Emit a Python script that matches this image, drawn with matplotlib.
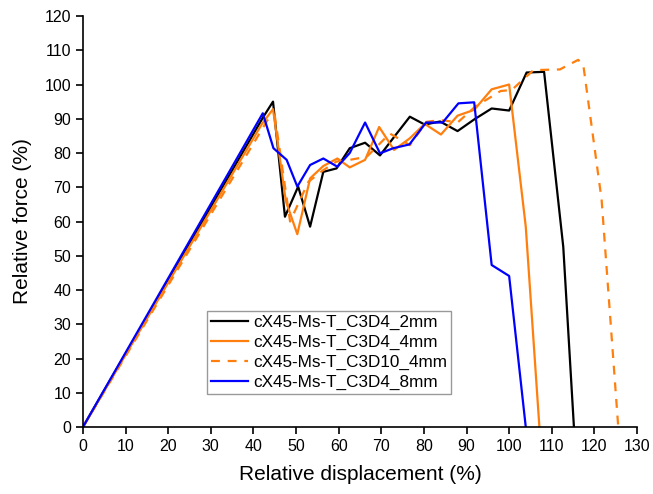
import matplotlib
matplotlib.use("Agg")
import matplotlib.pyplot as plt

plt.rcParams['font.family'] = ['Liberation Sans', 'DejaVu Sans']

labels = ["cX45-Ms-T_C3D4_2mm", "cX45-Ms-T_C3D4_4mm", "cX45-Ms-T_C3D10_4mm", "cX45-Ms-T_C3D4_8mm"]

x_2mm = [0, 42.3, 44.6, 47.4, 50.5, 53.3, 56.4, 59.5, 62.6, 66.2, 69.7, 73.2, 76.7, 80.2, 83.8, 87.9, 91.8, 95.9, 100.0, 104.1, 108.2, 112.7, 115.2]
y_2mm = [0, 90.5, 95.0, 61.4, 70.2, 58.5, 74.5, 75.5, 81.4, 83.0, 79.3, 85.0, 90.6, 88.3, 89.2, 86.4, 89.8, 93.0, 92.4, 103.5, 103.7, 52.6, 0]

x_4mm = [0, 42.0, 44.6, 47.6, 50.3, 53.3, 56.4, 59.7, 62.6, 66.2, 69.5, 73.0, 76.7, 80.2, 84.0, 87.9, 91.8, 95.9, 100.0, 103.9, 107.1]
y_4mm = [0, 88.5, 92.8, 66.0, 56.3, 72.6, 76.2, 78.4, 75.8, 78.0, 87.6, 80.9, 84.3, 88.5, 85.4, 90.9, 92.6, 98.6, 100.0, 58.5, 0]

x_c3d10 = [0, 43.5, 45.0, 48.6, 52.9, 56.4, 59.5, 62.6, 66.6, 72.0, 76.7, 80.6, 83.8, 88.0, 92.0, 98.0, 100.6, 105.7, 111.9, 116.2, 117.4, 121.7, 125.6]
y_c3d10 = [0, 90.0, 91.0, 60.0, 71.6, 75.0, 77.5, 78.0, 78.9, 85.7, 82.3, 89.1, 89.6, 89.0, 93.5, 98.1, 98.4, 104.2, 104.4, 107.2, 105.7, 66.3, 0]

x_8mm = [0, 42.2, 44.7, 47.8, 50.3, 53.3, 56.4, 59.7, 62.6, 66.2, 69.7, 72.8, 76.6, 80.5, 84.4, 88.1, 91.8, 95.9, 100.0, 103.9]
y_8mm = [0, 91.6, 81.4, 78.0, 70.2, 76.5, 78.4, 76.0, 80.0, 88.9, 79.9, 81.4, 82.5, 88.9, 88.9, 94.5, 94.8, 47.3, 44.1, 0]

x_ticks = list(range(0, 131, 10))
y_ticks = list(range(0, 121, 10))

fig = plt.figure(figsize=(6.53, 4.94), dpi=100)
ax = fig.add_axes([0.127, 0.1356, 0.8485, 0.832])

orange = "#ff7f0e"
ax.plot(x_2mm, y_2mm, color="black", lw=1.6, label=labels[0])
ax.plot(x_4mm, y_4mm, color=orange, lw=1.6, label=labels[1])
ax.plot(x_c3d10, y_c3d10, color=orange, lw=1.6, ls=(0, (4, 3.5)), label=labels[2])
ax.plot(x_8mm, y_8mm, color="#0000ff", lw=1.6, label=labels[3])

ax.set_xlim(0, 130)
ax.set_ylim(0, 120)
ax.set_xticks(x_ticks)
ax.set_yticks(y_ticks)
ax.spines['top'].set_visible(False)
ax.spines['right'].set_visible(False)
for s in ('left', 'bottom'):
    ax.spines[s].set_linewidth(1.2)
ax.tick_params(direction='out', length=5, width=1.2, labelsize=11.5)
ax.set_xlabel("Relative displacement (%)", fontsize=15, labelpad=8)
ax.set_ylabel("Relative force (%)", fontsize=15, labelpad=9)

leg = ax.legend(loc='upper left', bbox_to_anchor=(0.2245, 0.282), fontsize=12.3,
                frameon=True, fancybox=False, edgecolor='#808080', handlelength=2.2,
                borderpad=0.2, labelspacing=0.3, handletextpad=0.3, borderaxespad=0)
leg.get_frame().set_linewidth(1.0)

fig.savefig("out.png", dpi=100)
